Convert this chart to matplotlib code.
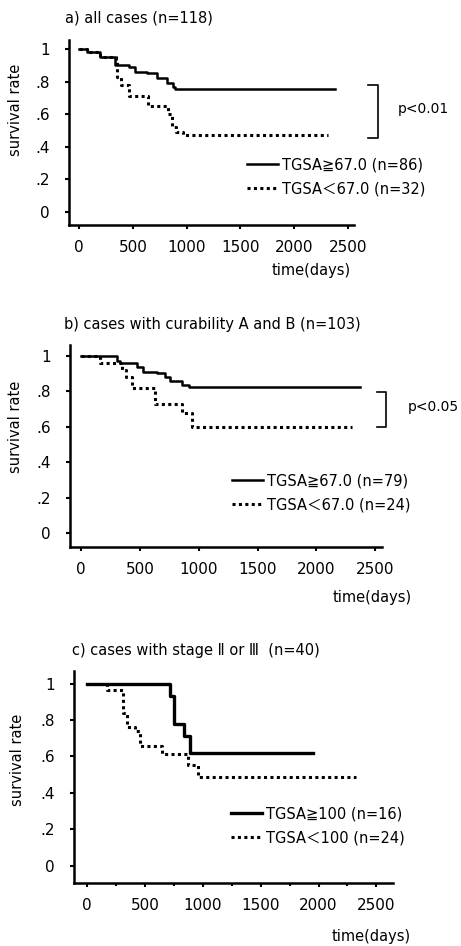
# Kaplan-Meier style survival curves, three panels
import matplotlib
matplotlib.use('Agg')
import matplotlib.pyplot as plt

plt.rcParams['font.family'] = ['DejaVu Sans', 'Noto Sans CJK JP']

W, H = 461, 946

# a) all cases
a_hi_t = [0, 70, 195, 335, 460, 520, 630, 720, 815, 875, 890, 2376]
a_hi_s = [1.0, 0.98, 0.95, 0.90, 0.89, 0.86, 0.85, 0.82, 0.79, 0.765, 0.755, 0.755]
a_lo_t = [0, 70, 195, 340, 355, 390, 460, 645, 830, 860, 905, 962, 2314]
a_lo_s = [1.0, 0.98, 0.95, 0.93, 0.83, 0.78, 0.71, 0.65, 0.60, 0.52, 0.49, 0.47, 0.47]

# b) curability A and B
b_hi_t = [0, 303, 332, 473, 530, 643, 714, 757, 856, 913, 2372]
b_hi_s = [1.0, 0.97, 0.957, 0.938, 0.91, 0.90, 0.88, 0.857, 0.835, 0.822, 0.822]
b_lo_t = [0, 162, 345, 380, 431, 629, 856, 941, 2301]
b_lo_s = [1.0, 0.96, 0.92, 0.88, 0.82, 0.73, 0.675, 0.60, 0.60]

# c) stage II or III
c_hi_t = [0, 714, 749, 838, 887, 1953]
c_hi_s = [1.0, 0.93, 0.78, 0.71, 0.617, 0.617]
c_lo_t = [0, 167, 311, 340, 412, 455, 642, 873, 959, 2327]
c_lo_s = [1.0, 0.964, 0.836, 0.763, 0.74, 0.657, 0.611, 0.553, 0.489, 0.489]

yticks = [0, 0.2, 0.4, 0.6, 0.8, 1.0]
ylabels = ['0', '.2', '.4', '.6', '.8', '1']
xticks = [0, 500, 1000, 1500, 2000, 2500]

fig = plt.figure(figsize=(W / 100, H / 100), dpi=100)


def fx(px):
    return px / W


def fy(py):
    return 1 - py / H


def panel(rect, xlim, ylim, hi, lo, labels, lw_hi, title, title_xy, ylab_xy, xlab_xy,
          leg_xy, bracket=None, minor=False):
    ax = fig.add_axes(rect)
    ax.step(hi[0], hi[1], where='post', color='black', lw=lw_hi, label=labels[0])
    ax.step(lo[0], lo[1], where='post', color='black', lw=2.2,
            linestyle=(0, (1, 1.1)), label=labels[1])
    ax.set_xlim(*xlim)
    ax.set_ylim(*ylim)
    ax.set_yticks(yticks)
    ax.set_yticklabels(ylabels)
    ax.set_xticks(xticks)
    if minor:
        ax.set_xticks([250, 750, 1250, 1750, 2250], minor=True)
        ax.tick_params(axis='x', which='minor', length=2, width=1.5)
    ax.tick_params(labelsize=11, length=3, width=1.5, pad=8)
    ax.tick_params(axis='y', pad=11)
    for s in ['top', 'right']:
        ax.spines[s].set_visible(False)
    for s in ['left', 'bottom']:
        ax.spines[s].set_linewidth(1.8)
    fig.text(fx(title_xy[0]), fy(title_xy[1]), title, fontsize=10.5, va='center', ha='left')
    fig.text(fx(ylab_xy[0]), fy(ylab_xy[1]), 'survival rate', fontsize=10.5,
             rotation=90, va='center', ha='center')
    fig.text(fx(xlab_xy[0]), fy(xlab_xy[1]), 'time(days)', fontsize=10.5, va='center', ha='left')
    ax.legend(loc='upper left', bbox_to_anchor=(fx(leg_xy[0]), fy(leg_xy[1])),
              bbox_transform=fig.transFigure, frameon=False, fontsize=10.5,
              handlelength=2.1, handletextpad=0.3, labelspacing=0.62,
              borderpad=0, borderaxespad=0)
    if bracket:
        bx, bx0, by0, by1, ptxt, px, py = bracket
        ax.plot([bx0, bx, bx, bx0], [by0, by0, by1, by1], color='black', lw=1.2, clip_on=False)
        ax.text(px, py, ptxt, fontsize=10, va='center', ha='left')
    return ax


panel([fx(69), fy(225), fx(354) - fx(69), fy(40) - fy(225)], (-93, 2555), (-0.08, 1.055),
      (a_hi_t, a_hi_s), (a_lo_t, a_lo_s),
      ['TGSA≧67.0 (n=86)', 'TGSA＜67.0 (n=32)'], 1.8,
      'a) all cases (n=118)', (65, 18), (15, 110), (272, 270), (247, 157),
      bracket=(2779, 2686, 0.78, 0.454, 'p<0.01', 2965, 0.632))

panel([fx(70), fy(547), fx(382) - fx(70), fy(345) - fy(547)], (-94, 2557), (-0.079, 1.06),
      (b_hi_t, b_hi_s), (b_lo_t, b_lo_s),
      ['TGSA≧67.0 (n=79)', 'TGSA＜67.0 (n=24)'], 1.8,
      'b) cases with curability A and B (n=103)', (64, 325), (15, 427), (333, 597), (232, 473),
      bracket=(2594, 2517, 0.796, 0.598, 'p<0.05', 2772, 0.712))

panel([fx(74), fy(883), fx(393) - fx(74), fy(671) - fy(883)], (-115, 2644), (-0.095, 1.069),
      (c_hi_t, c_hi_s), (c_lo_t, c_lo_s),
      ['TGSA≧100 (n=16)', 'TGSA＜100 (n=24)'], 2.4,
      'c) cases with stage Ⅱ or Ⅲ  (n=40)', (72, 650), (18, 760), (332, 936), (231, 806),
      minor=True)

fig.savefig('out.png', dpi=100)
